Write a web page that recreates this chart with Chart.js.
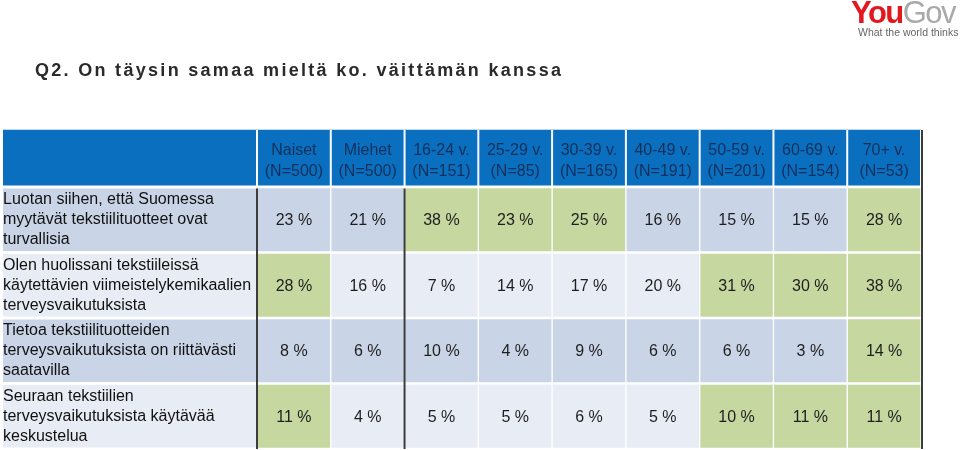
<!DOCTYPE html>
<html lang="fi">
<head>
<meta charset="utf-8">
<script src="https://cdn.jsdelivr.net/npm/chart.js@4.4.1/dist/chart.umd.min.js"></script>
<style>
body{margin:0;background:#fff;font-family:"Liberation Sans",Arial,sans-serif}
#wrap{position:relative;width:960px;height:450px}
canvas{display:block}
#otsikko{position:absolute;left:35px;top:60px;margin:0;font-size:18px;font-weight:bold;letter-spacing:2.3px;color:#2a2a2a}
#logo{position:absolute;left:851px;top:-5px;font-size:31px;font-weight:bold;letter-spacing:-1.5px;line-height:36px}
#logo .you{color:#e3171e}
#logo .gov{color:#a9a9a9;font-weight:normal}
#slogan{position:absolute;left:858px;top:26px;font-family:"Liberation Sans Narrow","Liberation Sans",Arial,sans-serif;font-size:10.5px;color:#666;white-space:nowrap}
</style>
</head>
<body>
<div id="wrap">
  <canvas id="taulukko" width="960" height="450"></canvas>
  <h1 id="otsikko">Q2. On täysin samaa mieltä ko. väittämän kanssa</h1>
  <div id="logo"><span class="you">You</span><span class="gov">Gov</span></div>
  <div id="slogan">What the world thinks</div>
</div>
<script>
// Sarakkeet (ryhmät) - otsikkorivin tekstit
const ryhmat = [
  ['Naiset', '(N=500)'], ['Miehet', '(N=500)'], ['16-24 v.', '(N=151)'],
  ['25-29 v.', '(N=85)'], ['30-39 v.', '(N=165)'], ['40-49 v.', '(N=191)'],
  ['50-59 v.', '(N=201)'], ['60-69 v.', '(N=154)'], ['70+ v.', '(N=53)']
];
// Väittämät - rivien tekstit
const vaittamat = [
  ['Luotan siihen, että Suomessa', 'myytävät tekstiilituotteet ovat', 'turvallisia'],
  ['Olen huolissani tekstiileissä', 'käytettävien viimeistelykemikaalien', 'terveysvaikutuksista'],
  ['Tietoa tekstiilituotteiden', 'terveysvaikutuksista on riittävästi', 'saatavilla'],
  ['Seuraan tekstiilien', 'terveysvaikutuksista käytävää', 'keskustelua']
];
// Prosentit riveittäin
const luotan = [23, 21, 38, 23, 25, 16, 15, 15, 28];
const huolissani = [28, 16, 7, 14, 17, 20, 31, 30, 38];
const tietoa = [8, 6, 10, 4, 9, 6, 6, 3, 14];
const seuraan = [11, 4, 5, 5, 6, 5, 10, 11, 11];
const arvot = [luotan, huolissani, tietoa, seuraan];
// Vihreällä korostetut solut (sarakkeiden indeksit riveittäin)
const korostetut = [[2, 3, 4, 8], [0, 6, 7, 8], [8], [0, 6, 7, 8]];

const SININEN = '#0b6fc0';
const TUMMA_RIVI = '#cad4e7';
const VAALEA_RIVI = '#e8ecf4';
const VIHREA = '#c6d7a0';
const FONTTI = '"Liberation Sans", Arial, sans-serif';

function riviVari(r) { return r % 2 === 0 ? TUMMA_RIVI : VAALEA_RIVI; }

// Taustat: otsikkorivi ja väittämäsarake
const taustat = {
  id: 'taustat',
  beforeDraw(chart) {
    const { ctx, chartArea, scales: { x, y } } = chart;
    const vasen = chart.options.layout.padding.left;
    ctx.save();
    ctx.fillStyle = '#bcd9f0';
    ctx.fillRect(vasen, x.top - 1, chartArea.right - vasen, 1);
    ctx.fillStyle = SININEN;
    const yla = x.top, kork = x.bottom - x.top - 1.5;
    ctx.fillRect(vasen, yla, chartArea.left - vasen - 1, kork);
    ryhmat.forEach((_, c) => {
      const a = x.getPixelForValue(c), b = x.getPixelForValue(c + 1);
      ctx.fillRect(a + 1, yla, b - a - 2, kork);
    });
    const askel = (y.bottom - y.top) / vaittamat.length;
    vaittamat.forEach((_, r) => {
      ctx.fillStyle = riviVari(r);
      ctx.fillRect(vasen, y.top + r * askel + 1.5, chartArea.left - vasen, askel - 3);
    });
    ctx.restore();
  },
  afterDatasetsDraw(chart) {
    const { ctx, chartArea, scales: { x } } = chart;
    ctx.save();
    // prosenttiluvut soluihin
    ctx.font = '16px ' + FONTTI;
    ctx.fillStyle = '#1e1e1e';
    ctx.textAlign = 'center';
    ctx.textBaseline = 'middle';
    chart.data.datasets.forEach((ds, c) => {
      chart.getDatasetMeta(c).data.forEach((el, r) => {
        const p = el.getCenterPoint();
        ctx.fillText(arvot[r][c] + ' %', p.x, p.y + 1);
      });
    });
    // tummat pystyviivat
    ctx.strokeStyle = '#3c3c3c';
    ctx.lineWidth = 2;
    ctx.beginPath();
    ctx.moveTo(chartArea.left, chartArea.top + 1.5);
    ctx.lineTo(chartArea.left, chartArea.bottom);
    const raja = x.getPixelForValue(2);
    ctx.moveTo(raja, chartArea.top + 1.5);
    ctx.lineTo(raja, chartArea.bottom);
    ctx.moveTo(chartArea.right + 1, x.top);
    ctx.lineTo(chartArea.right + 1, chartArea.bottom);
    ctx.stroke();
    ctx.restore();
  }
};

const datasetit = ryhmat.map((_, c) => ({
  label: ryhmat[c].join(' '),
  data: vaittamat.map(() => [c, c + 1]),
  backgroundColor: vaittamat.map((_, r) => korostetut[r].includes(c) ? VIHREA : riviVari(r)),
  borderColor: '#ffffff',
  borderWidth: { top: 1.5, bottom: 1.5, left: 1, right: 1 },
  borderSkipped: false,
  categoryPercentage: 1,
  barPercentage: 1,
  grouped: false
}));

const ctx = document.getElementById('taulukko').getContext('2d');
const taulukko = new Chart(ctx, {
  type: 'bar',
  data: { labels: vaittamat, datasets: datasetit },
  plugins: [taustat],
  options: {
    indexAxis: 'y',
    responsive: false,
    animation: false,
    layout: { padding: { left: 3, top: 130, right: 39, bottom: 1 } },
    plugins: { legend: { display: false }, tooltip: { enabled: false } },
    scales: {
      x: {
        type: 'linear', position: 'top', min: 0, max: 9,
        grid: { display: false, drawTicks: false }, border: { display: false },
        afterBuildTicks: axis => { axis.ticks = ryhmat.map((_, c) => ({ value: c + 0.5 })); },
        afterFit: axis => { axis.height = 57; axis.paddingLeft = 0; axis.paddingRight = 0; },
        ticks: {
          autoSkip: false, maxRotation: 0, padding: 5, color: '#13305a',
          font: { size: 16, family: FONTTI, lineHeight: 1.3 },
          callback: (v, i) => ryhmat[i]
        }
      },
      y: {
        type: 'category',
        grid: { display: false, drawTicks: false }, border: { display: false },
        afterFit: axis => { axis.width = 254; axis.paddingTop = 0; axis.paddingBottom = 0; },
        ticks: {
          autoSkip: false, crossAlign: 'far', padding: 0, color: '#111',
          font: { size: 16, family: FONTTI, lineHeight: 1.25 }
        }
      }
    }
  }
});
</script>
</body>
</html>
